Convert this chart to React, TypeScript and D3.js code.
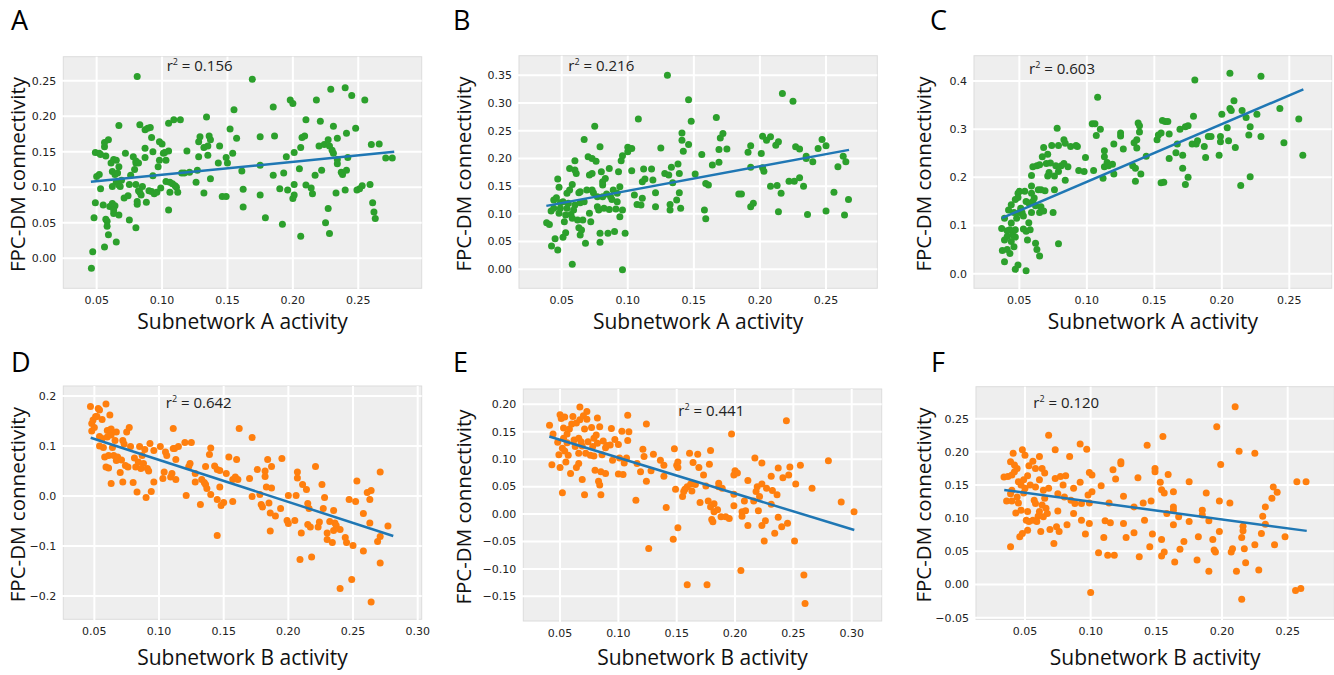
import React from "react";
import * as d3 from "d3";

// ---------- DATA ----------
const panelLetters = ["A", "B", "C", "D", "E", "F"];
const xLabels = ["Subnetwork A activity", "Subnetwork A activity", "Subnetwork A activity", "Subnetwork B activity", "Subnetwork B activity", "Subnetwork B activity"];
const yLabel = "FPC-DM connectivity";
const r2Values = ["0.156", "0.216", "0.603", "0.642", "0.441", "0.120"];

const xTicksA = [0.05, 0.1, 0.15, 0.2, 0.25];
const xTicksB = [0.05, 0.1, 0.15, 0.2, 0.25, 0.3];
const yTicks1 = [0, 0.05, 0.1, 0.15, 0.2, 0.25];
const yTicks2 = [0, 0.05, 0.1, 0.15, 0.2, 0.25, 0.3, 0.35];
const yTicks3 = [0, 0.1, 0.2, 0.3, 0.4];
const yTicks4 = [-0.2, -0.1, 0, 0.1, 0.2];
const yTicks5 = [-0.15, -0.1, -0.05, 0, 0.05, 0.1, 0.15, 0.2];
const yTicks6 = [-0.05, 0, 0.05, 0.1, 0.15, 0.2, 0.25];

// regression lines: [x0, y0, x1, y1]
const fitA = [0.0456, 0.1076, 0.2775, 0.150];
const fitB = [0.0384, 0.1144, 0.2674, 0.2155];
const fitC = [0.037, 0.1154, 0.2604, 0.3828];
const fitD = [0.0472, 0.1166, 0.2811, -0.080];
const fitE = [0.0408, 0.1414, 0.3022, -0.0292];
const fitF = [0.0342, 0.1425, 0.2645, 0.0809];

// r^2 label anchor in data units
const r2PosA = [0.1035, 0.264];
const r2PosB = [0.055, 0.358];
const r2PosC = [0.0572, 0.4145];
const r2PosD = [0.1052, 0.1754];
const r2PosE = [0.1514, 0.1786];
const r2PosF = [0.0563, 0.2657];

const pointsA: [number, number][] = [
  [0.046,-0.014],[0.047,0.009],[0.048,0.057],[0.049,0.078],[0.049,0.149],[0.052,0.148],[0.05,0.115],[0.052,0.118],[0.053,0.098],[0.055,0.075],
  [0.056,0.157],[0.056,0.163],[0.057,0.144],[0.059,0.167],[0.057,0.055],[0.058,0.052],[0.058,0.045],[0.059,0.033],[0.056,0.016],[0.065,0.023],
  [0.06,0.073],[0.062,0.077],[0.064,0.074],[0.063,0.068],[0.063,0.063],[0.067,0.061],[0.067,0.187],[0.061,0.134],[0.063,0.139],[0.065,0.138],
  [0.062,0.122],[0.064,0.118],[0.066,0.12],[0.065,0.107],[0.067,0.103],[0.062,0.101],[0.067,0.129],[0.069,0.11],[0.068,0.101],[0.072,0.148],
  [0.071,0.085],[0.074,0.088],[0.075,0.054],[0.075,0.104],[0.076,0.117],[0.078,0.143],[0.08,0.134],[0.079,0.125],[0.08,0.137],[0.082,0.134],
  [0.08,0.104],[0.081,0.08],[0.081,0.076],[0.08,0.043],[0.081,0.256],[0.083,0.188],[0.082,0.095],[0.083,0.093],[0.085,0.101],[0.084,0.089],
  [0.087,0.142],[0.087,0.155],[0.087,0.181],[0.089,0.183],[0.091,0.184],[0.092,0.17],[0.093,0.15],[0.093,0.116],[0.088,0.079],[0.09,0.095],
  [0.092,0.094],[0.094,0.091],[0.096,0.093],[0.098,0.164],[0.1,0.161],[0.097,0.129],[0.098,0.138],[0.101,0.148],[0.103,0.138],[0.099,0.099],
  [0.102,0.149],[0.105,0.151],[0.105,0.19],[0.109,0.195],[0.114,0.195],[0.103,0.108],[0.106,0.107],[0.108,0.105],[0.11,0.102],[0.111,0.1],
  [0.106,0.093],[0.112,0.093],[0.105,0.068],[0.115,0.12],[0.117,0.12],[0.119,0.151],[0.121,0.121],[0.126,0.107],[0.127,0.124],[0.128,0.143],
  [0.128,0.164],[0.129,0.171],[0.132,0.092],[0.134,0.199],[0.132,0.156],[0.135,0.158],[0.136,0.172],[0.137,0.167],[0.135,0.145],[0.137,0.112],
  [0.143,0.134],[0.144,0.158],[0.146,0.087],[0.149,0.087],[0.149,0.142],[0.15,0.134],[0.152,0.182],[0.154,0.148],[0.155,0.209],[0.157,0.169],
  [0.161,0.123],[0.162,0.097],[0.162,0.072],[0.169,0.252],[0.175,0.171],[0.175,0.089],[0.175,0.131],[0.179,0.057],[0.185,0.213],[0.186,0.172],
  [0.185,0.117],[0.19,0.098],[0.192,0.048],[0.193,0.12],[0.195,0.143],[0.196,0.096],[0.198,0.223],[0.2,0.218],[0.201,0.149],[0.201,0.104],
  [0.201,0.089],[0.2,0.084],[0.205,0.126],[0.206,0.031],[0.206,0.156],[0.207,0.17],[0.209,0.172],[0.21,0.103],[0.21,0.195],[0.214,0.099],
  [0.215,0.091],[0.217,0.117],[0.218,0.223],[0.22,0.158],[0.221,0.193],[0.222,0.124],[0.224,0.16],[0.225,0.05],[0.227,0.167],[0.227,0.07],
  [0.228,0.158],[0.229,0.238],[0.228,0.035],[0.23,0.152],[0.231,0.186],[0.231,0.148],[0.233,0.092],[0.234,0.169],[0.234,0.139],[0.234,0.133],
  [0.237,0.121],[0.238,0.118],[0.24,0.24],[0.24,0.096],[0.241,0.124],[0.241,0.176],[0.242,0.142],[0.245,0.229],[0.248,0.183],[0.249,0.096],
  [0.251,0.098],[0.253,0.102],[0.255,0.223],[0.259,0.104],[0.26,0.16],[0.261,0.078],[0.262,0.065],[0.263,0.056],[0.266,0.161],[0.271,0.141],
  [0.276,0.141],[0.053,0.146]
];

const pointsB: [number, number][] = [
  [0.0386,0.084],[0.0407,0.081],[0.0423,0.042],[0.047,0.035],[0.045,0.055],[0.042,0.105],[0.044,0.125],[0.046,0.129],[0.047,0.163],[0.048,0.148],
  [0.049,0.12],[0.049,0.11],[0.048,0.101],[0.051,0.122],[0.052,0.086],[0.051,0.058],[0.053,0.066],[0.053,0.098],[0.054,0.137],[0.056,0.143],
  [0.055,0.119],[0.056,0.182],[0.057,0.099],[0.058,0.092],[0.058,0.009],[0.058,0.153],[0.06,0.196],[0.06,0.179],[0.06,0.116],[0.061,0.173],
  [0.062,0.089],[0.063,0.075],[0.063,0.138],[0.064,0.062],[0.064,0.12],[0.065,0.071],[0.066,0.089],[0.067,0.234],[0.067,0.122],[0.068,0.047],
  [0.07,0.203],[0.071,0.17],[0.071,0.101],[0.072,0.086],[0.073,0.2],[0.073,0.173],[0.073,0.143],[0.074,0.138],[0.075,0.258],[0.076,0.195],
  [0.077,0.131],[0.077,0.113],[0.078,0.107],[0.079,0.221],[0.079,0.065],[0.08,0.176],[0.079,0.049],[0.081,0.158],[0.081,0.152],[0.082,0.11],
  [0.083,0.164],[0.084,0.136],[0.085,0.065],[0.086,0.182],[0.086,0.108],[0.087,0.131],[0.088,0.126],[0.089,0.143],[0.09,0.068],[0.091,0.109],
  [0.092,0.122],[0.093,0.176],[0.094,0.095],[0.094,0.149],[0.095,0.196],[0.096,-0.001],[0.096,0.107],[0.096,0.205],[0.098,0.065],[0.1,0.212],
  [0.1,0.22],[0.103,0.218],[0.103,0.178],[0.105,0.134],[0.107,0.117],[0.108,0.271],[0.11,0.116],[0.111,0.158],[0.111,0.128],[0.112,0.181],
  [0.113,0.163],[0.118,0.181],[0.119,0.161],[0.121,0.138],[0.121,0.113],[0.125,0.219],[0.128,0.173],[0.131,0.17],[0.13,0.35],[0.132,0.107],
  [0.132,0.117],[0.133,0.184],[0.134,0.156],[0.138,0.19],[0.139,0.138],[0.139,0.173],[0.137,0.125],[0.14,0.11],[0.141,0.246],[0.141,0.233],
  [0.142,0.213],[0.146,0.306],[0.146,0.225],[0.148,0.267],[0.151,0.172],[0.156,0.207],[0.158,0.107],[0.159,0.091],[0.159,0.155],[0.161,0.152],
  [0.164,0.188],[0.167,0.274],[0.169,0.193],[0.169,0.216],[0.17,0.237],[0.172,0.245],[0.175,0.217],[0.184,0.136],[0.186,0.136],[0.191,0.211],
  [0.193,0.223],[0.193,0.113],[0.195,0.119],[0.193,0.184],[0.201,0.209],[0.202,0.24],[0.202,0.183],[0.203,0.177],[0.205,0.233],[0.208,0.239],
  [0.208,0.15],[0.212,0.224],[0.214,0.23],[0.213,0.151],[0.214,0.104],[0.216,0.137],[0.217,0.317],[0.222,0.159],[0.225,0.303],[0.226,0.159],
  [0.227,0.221],[0.23,0.217],[0.23,0.165],[0.233,0.15],[0.235,0.2],[0.235,0.204],[0.236,0.099],[0.24,0.194],[0.244,0.218],[0.247,0.234],
  [0.25,0.223],[0.25,0.105],[0.256,0.139],[0.259,0.185],[0.263,0.204],[0.264,0.098],[0.265,0.194],[0.267,0.126],
  [0.044,0.11],[0.054,0.11],[0.059,0.107],[0.064,0.14],[0.069,0.143],[0.081,0.131],[0.092,0.137]
];

const pointsC: [number, number][] = [
  [0.0369,0.094],[0.0374,0.048],[0.039,0.07],[0.039,0.025],[0.039,0.115],[0.041,0.05],[0.041,0.089],[0.041,0.077],[0.042,0.132],[0.043,0.042],
  [0.043,0.091],[0.044,0.067],[0.044,0.105],[0.044,0.143],[0.045,0.081],[0.046,0.056],[0.046,0.127],[0.047,0.154],[0.047,0.091],[0.047,0.009],
  [0.047,0.076],[0.048,0.115],[0.049,0.018],[0.049,0.167],[0.049,0.158],[0.05,0.127],[0.05,0.171],[0.051,0.136],[0.052,0.127],[0.053,0.12],
  [0.053,0.093],[0.054,0.171],[0.055,0.006],[0.055,0.15],[0.055,0.088],[0.056,0.07],[0.057,0.147],[0.057,0.106],[0.058,0.091],[0.059,0.167],
  [0.059,0.204],[0.059,0.182],[0.059,0.127],[0.06,0.15],[0.06,0.222],[0.061,0.157],[0.062,0.141],[0.062,0.063],[0.063,0.05],[0.063,0.224],
  [0.064,0.174],[0.065,0.037],[0.065,0.226],[0.065,0.127],[0.066,0.139],[0.066,0.174],[0.067,0.243],[0.068,0.262],[0.068,0.13],[0.069,0.172],
  [0.07,0.229],[0.071,0.203],[0.071,0.248],[0.072,0.21],[0.073,0.23],[0.074,0.266],[0.075,0.127],[0.076,0.203],[0.076,0.174],[0.077,0.224],
  [0.078,0.302],[0.079,0.062],[0.079,0.212],[0.079,0.266],[0.081,0.224],[0.083,0.278],[0.083,0.229],[0.084,0.194],[0.084,0.271],[0.086,0.222],
  [0.088,0.264],[0.092,0.266],[0.093,0.264],[0.094,0.214],[0.098,0.212],[0.099,0.241],[0.104,0.311],[0.106,0.311],[0.107,0.287],[0.105,0.214],
  [0.108,0.366],[0.11,0.3],[0.112,0.198],[0.113,0.222],[0.113,0.243],[0.113,0.255],[0.115,0.231],[0.116,0.224],[0.119,0.227],[0.12,0.207],
  [0.12,0.269],[0.125,0.286],[0.125,0.292],[0.127,0.259],[0.134,0.224],[0.135,0.272],[0.136,0.219],[0.136,0.192],[0.137,0.278],[0.137,0.261],
  [0.138,0.313],[0.139,0.294],[0.139,0.307],[0.14,0.207],[0.144,0.244],[0.152,0.278],[0.153,0.288],[0.155,0.189],[0.155,0.292],[0.156,0.318],
  [0.157,0.19],[0.158,0.316],[0.16,0.316],[0.161,0.29],[0.161,0.239],[0.166,0.251],[0.167,0.269],[0.169,0.3],[0.171,0.219],[0.171,0.246],
  [0.173,0.185],[0.173,0.305],[0.175,0.307],[0.175,0.2],[0.178,0.269],[0.179,0.327],[0.18,0.402],[0.181,0.269],[0.182,0.276],[0.187,0.264],
  [0.188,0.241],[0.19,0.285],[0.192,0.285],[0.198,0.246],[0.199,0.285],[0.199,0.274],[0.2,0.331],[0.204,0.303],[0.205,0.276],[0.206,0.416],
  [0.206,0.343],[0.207,0.339],[0.209,0.359],[0.21,0.262],[0.214,0.183],[0.215,0.339],[0.218,0.324],[0.22,0.288],[0.221,0.305],[0.221,0.201],
  [0.226,0.331],[0.229,0.285],[0.229,0.41],[0.243,0.343],[0.246,0.272],[0.257,0.321],[0.26,0.246]
];

const pointsD: [number, number][] = [
  [0.047,0.179],[0.048,0.145],[0.048,0.13],[0.049,0.152],[0.05,0.137],[0.051,0.159],[0.052,0.159],[0.053,0.175],[0.054,0.172],[0.054,0.119],
  [0.054,0.1],[0.056,0.153],[0.056,0.115],[0.057,0.097],[0.058,0.078],[0.059,0.184],[0.059,0.058],[0.06,0.131],[0.06,0.118],[0.061,0.056],
  [0.061,0.081],[0.062,0.162],[0.062,0.132],[0.063,0.122],[0.063,0.025],[0.063,0.134],[0.064,0.097],[0.065,0.081],[0.066,0.111],[0.067,0.071],
  [0.067,0.128],[0.068,0.078],[0.07,0.047],[0.071,0.072],[0.072,0.028],[0.072,0.111],[0.073,0.104],[0.074,0.061],[0.075,0.128],[0.076,0.058],
  [0.077,0.137],[0.078,0.099],[0.08,0.027],[0.081,0.076],[0.082,0.058],[0.083,0.008],[0.084,0.068],[0.085,0.099],[0.086,0.055],[0.087,0.081],
  [0.088,0.065],[0.089,0.093],[0.09,-0.003],[0.091,0.055],[0.092,0.05],[0.093,0.105],[0.094,0.009],[0.096,0.028],[0.096,0.091],[0.101,0.099],
  [0.103,0.035],[0.104,0.048],[0.105,0.088],[0.106,0.081],[0.109,0.038],[0.11,0.045],[0.111,0.135],[0.111,0.095],[0.112,0.095],[0.113,0.033],
  [0.113,0.073],[0.115,0.099],[0.12,0.107],[0.121,0.001],[0.123,0.059],[0.124,0.065],[0.125,0.107],[0.128,0.045],[0.128,0.028],[0.132,-0.017],
  [0.133,0.033],[0.135,0.027],[0.136,0.059],[0.136,0.023],[0.137,0.015],[0.139,0.083],[0.14,0.096],[0.14,0.003],[0.143,0.06],[0.145,0.053],
  [0.145,-0.079],[0.145,-0.007],[0.147,0.051],[0.147,0.018],[0.148,-0.019],[0.15,-0.013],[0.152,0.045],[0.154,0.078],[0.157,-0.011],[0.157,0.033],
  [0.159,0.038],[0.16,0.073],[0.161,0.033],[0.162,0.135],[0.17,0.035],[0.172,0.117],[0.172,-0.001],[0.176,0.053],[0.178,0.003],[0.179,-0.017],
  [0.18,-0.022],[0.182,0.05],[0.182,0.039],[0.183,0.018],[0.184,0.073],[0.185,-0.014],[0.186,-0.034],[0.186,-0.07],[0.187,0.059],[0.187,0.016],
  [0.19,-0.04],[0.194,-0.025],[0.195,0.075],[0.199,-0.049],[0.2,-0.055],[0.2,0.001],[0.205,-0.049],[0.206,0.001],[0.207,0.048],[0.207,0.036],
  [0.209,-0.127],[0.21,-0.074],[0.211,0.023],[0.214,0.013],[0.215,-0.057],[0.215,-0.015],[0.216,-0.025],[0.217,-0.062],[0.218,-0.122],[0.221,0.059],
  [0.223,-0.062],[0.224,-0.052],[0.226,0.023],[0.227,-0.025],[0.228,-0.003],[0.23,-0.074],[0.23,-0.087],[0.232,-0.051],[0.234,-0.093],[0.235,-0.029],
  [0.235,-0.069],[0.236,-0.054],[0.237,-0.059],[0.24,-0.185],[0.24,-0.067],[0.244,-0.083],[0.245,-0.093],[0.247,-0.007],[0.249,-0.167],[0.25,-0.099],
  [0.252,-0.011],[0.253,0.03],[0.258,-0.035],[0.258,-0.11],[0.261,0.007],[0.263,-0.054],[0.263,-0.007],[0.264,-0.212],[0.264,0.011],[0.269,-0.091],
  [0.271,-0.081],[0.271,-0.134],[0.271,0.048],[0.277,-0.06]
];

const pointsE: [number, number][] = [
  [0.041,0.162],[0.043,0.09],[0.044,0.146],[0.048,0.131],[0.049,0.108],[0.05,0.181],[0.05,0.085],[0.051,0.174],[0.052,0.039],[0.052,0.12],
  [0.053,0.138],[0.053,0.157],[0.054,0.177],[0.054,0.115],[0.055,0.095],[0.056,0.13],[0.056,0.146],[0.057,0.107],[0.058,0.155],[0.059,0.074],
  [0.06,0.164],[0.061,0.178],[0.062,0.135],[0.063,0.123],[0.064,0.085],[0.064,0.166],[0.066,0.138],[0.066,0.111],[0.066,0.092],[0.067,0.172],
  [0.067,0.195],[0.068,0.132],[0.069,0.124],[0.069,0.063],[0.07,0.179],[0.071,0.155],[0.071,0.035],[0.072,0.111],[0.073,0.173],[0.073,0.187],
  [0.074,0.132],[0.076,0.107],[0.077,0.158],[0.078,0.123],[0.079,0.106],[0.079,0.138],[0.08,0.08],[0.081,0.144],[0.082,0.129],[0.082,0.175],
  [0.083,0.06],[0.084,0.053],[0.084,0.159],[0.085,0.077],[0.085,0.035],[0.086,0.108],[0.087,0.133],[0.089,0.121],[0.089,0.074],[0.09,0.125],
  [0.093,0.126],[0.094,0.156],[0.095,0.098],[0.097,0.136],[0.1,0.073],[0.1,0.127],[0.101,0.102],[0.103,0.151],[0.104,0.072],[0.105,0.093],
  [0.107,0.102],[0.108,0.134],[0.109,0.15],[0.108,0.18],[0.115,0.025],[0.116,0.092],[0.119,0.077],[0.121,0.118],[0.122,0.105],[0.124,0.164],
  [0.124,0.06],[0.126,-0.063],[0.128,0.079],[0.13,0.109],[0.136,0.098],[0.139,0.089],[0.139,0.069],[0.141,0.012],[0.147,-0.046],[0.148,0.119],
  [0.149,0.045],[0.15,0.089],[0.151,-0.025],[0.151,0.085],[0.151,0.095],[0.155,0.032],[0.156,0.041],[0.157,0.045],[0.159,-0.129],[0.159,0.05],
  [0.161,0.111],[0.162,0.055],[0.163,0.042],[0.164,0.094],[0.166,0.054],[0.168,0.109],[0.169,0.085],[0.17,0.021],[0.173,0.071],[0.175,0.051],
  [0.176,-0.129],[0.177,0.024],[0.178,0.091],[0.179,0.116],[0.179,0.013],[0.18,-0.01],[0.181,-0.014],[0.182,0.019],[0.182,0.004],[0.185,0.008],
  [0.186,0.056],[0.186,0.05],[0.188,-0.005],[0.189,0.047],[0.192,-0.005],[0.195,-0.008],[0.197,0.146],[0.199,0.071],[0.199,0.015],[0.199,0.036],
  [0.2,0.079],[0.202,0.075],[0.205,-0.103],[0.206,0.004],[0.206,-0.004],[0.208,0.024],[0.209,0.006],[0.211,-0.021],[0.211,0.061],[0.216,0.024],
  [0.217,0.102],[0.218,0.041],[0.219,0.05],[0.22,0.006],[0.221,0.032],[0.223,0.055],[0.223,0.093],[0.223,-0.021],[0.225,-0.049],[0.226,-0.012],
  [0.227,0.047],[0.231,0.018],[0.231,0.069],[0.232,0.043],[0.234,-0.035],[0.236,0.035],[0.237,-0.006],[0.237,0.084],[0.24,-0.023],[0.241,0.066],
  [0.244,0.17],[0.245,-0.017],[0.246,0.071],[0.247,0.086],[0.251,-0.049],[0.252,0.055],[0.256,0.089],[0.259,-0.111],[0.26,-0.163],[0.266,0.047],
  [0.28,0.097],[0.291,0.022],[0.302,0.004]
];

const pointsF: [number, number][] = [
  [0.034,0.162],[0.036,0.126],[0.037,0.163],[0.039,0.137],[0.039,0.057],[0.039,0.185],[0.04,0.126],[0.04,0.142],[0.04,0.165],[0.041,0.198],
  [0.042,0.18],[0.042,0.17],[0.043,0.108],[0.044,0.175],[0.044,0.132],[0.045,0.155],[0.045,0.123],[0.046,0.072],[0.047,0.112],[0.047,0.15],
  [0.048,0.203],[0.048,0.077],[0.049,0.138],[0.049,0.158],[0.05,0.195],[0.05,0.145],[0.051,0.097],[0.052,0.164],[0.052,0.11],[0.052,0.082],
  [0.053,0.179],[0.053,0.095],[0.054,0.15],[0.056,0.097],[0.056,0.186],[0.057,0.127],[0.058,0.147],[0.058,0.122],[0.058,0.175],[0.059,0.095],
  [0.06,0.103],[0.061,0.158],[0.061,0.193],[0.061,0.11],[0.062,0.08],[0.063,0.12],[0.063,0.175],[0.064,0.142],[0.064,0.102],[0.065,0.168],
  [0.065,0.13],[0.066,0.115],[0.067,0.107],[0.068,0.145],[0.068,0.225],[0.069,0.083],[0.072,0.062],[0.073,0.203],[0.073,0.16],[0.074,0.087],
  [0.075,0.137],[0.075,0.111],[0.076,0.08],[0.077,0.163],[0.079,0.15],[0.08,0.132],[0.081,0.164],[0.082,0.09],[0.084,0.193],[0.085,0.127],
  [0.087,0.107],[0.087,0.145],[0.088,0.122],[0.092,0.212],[0.092,0.154],[0.093,0.122],[0.093,0.097],[0.096,0.076],[0.097,0.204],[0.098,0.135],
  [0.099,0.169],[0.099,0.092],[0.099,0.123],[0.1,-0.012],[0.101,0.14],[0.101,0.165],[0.108,0.149],[0.11,0.071],[0.106,0.048],[0.111,0.096],
  [0.113,0.044],[0.114,0.123],[0.115,0.093],[0.117,0.173],[0.118,0.044],[0.119,0.159],[0.123,0.185],[0.123,0.182],[0.125,0.133],[0.125,0.092],
  [0.127,0.071],[0.133,0.078],[0.133,0.117],[0.136,0.161],[0.137,0.042],[0.14,0.123],[0.141,0.097],[0.143,0.21],[0.145,0.057],[0.146,0.126],
  [0.147,0.076],[0.149,0.175],[0.149,0.17],[0.153,0.154],[0.154,0.068],[0.154,0.143],[0.154,0.043],[0.155,0.223],[0.156,0.138],[0.156,0.049],
  [0.158,0.107],[0.159,0.166],[0.163,0.09],[0.163,0.14],[0.163,0.117],[0.163,0.112],[0.164,0.034],[0.167,0.102],[0.168,0.053],[0.171,0.065],
  [0.175,0.095],[0.175,0.155],[0.181,0.037],[0.182,0.072],[0.185,0.112],[0.185,0.105],[0.188,0.138],[0.19,0.02],[0.19,0.096],[0.193,0.068],
  [0.194,0.052],[0.195,0.049],[0.196,0.238],[0.198,0.08],[0.198,0.126],[0.199,0.181],[0.206,0.123],[0.207,0.049],[0.208,0.054],[0.21,0.268],
  [0.211,0.02],[0.213,0.201],[0.215,0.071],[0.215,-0.022],[0.216,0.088],[0.216,0.081],[0.217,0.054],[0.218,0.033],[0.225,0.198],[0.225,0.06],
  [0.228,0.022],[0.23,0.077],[0.231,0.103],[0.233,0.117],[0.233,0.091],[0.238,0.13],[0.239,0.147],[0.24,0.06],[0.242,0.139],[0.248,0.072],
  [0.256,-0.009],[0.257,0.155],[0.26,-0.006],[0.264,0.155]
];

// ---------- LAYOUT ----------
const GREEN = "#2ca02c";
const ORANGE = "#ff7f0e";
const BLUE = "#1f77b4";
const FONT = "'Open Sans', 'Noto Sans', sans-serif";
const TICKFONT = "'DejaVu Sans', sans-serif";

type Panel = {
  letter: string; lx: number; ly: number;
  left: number; top: number; right: number; bottom: number;
  xDom: [number, number]; yDom: [number, number];
  xTicks: number[]; yTicks: number[]; yFmt: string;
  pts: [number, number][]; color: string; fit: number[]; r2: string; r2Pos: number[];
  xLabel: string; yLabelX: number; xLabelY: number;
};

const panels: Panel[] = [
  { letter: panelLetters[0], lx: 11, ly: 30, left: 63.3, top: 56.7, right: 421.7, bottom: 288.3, xDom: [0.0245, 0.2985], yDom: [-0.0423, 0.2838], xTicks: xTicksA, yTicks: yTicks1, yFmt: ".2f", pts: pointsA, color: GREEN, fit: fitA, r2: r2Values[0], r2Pos: r2PosA, xLabel: xLabels[0], yLabelX: 17, xLabelY: 329 },
  { letter: panelLetters[1], lx: 453, ly: 30, left: 519, top: 55.7, right: 877.3, bottom: 288.3, xDom: [0.0177, 0.2888], yDom: [-0.0343, 0.3854], xTicks: xTicksA, yTicks: yTicks2, yFmt: ".2f", pts: pointsB, color: GREEN, fit: fitB, r2: r2Values[1], r2Pos: r2PosB, xLabel: xLabels[1], yLabelX: 463, xLabelY: 329 },
  { letter: panelLetters[2], lx: 930, ly: 30, left: 974, top: 55.7, right: 1331.7, bottom: 288.3, xDom: [0.0164, 0.2814], yDom: [-0.0303, 0.4525], xTicks: xTicksA, yTicks: yTicks3, yFmt: ".1f", pts: pointsC, color: GREEN, fit: fitC, r2: r2Values[2], r2Pos: r2PosC, xLabel: xLabels[2], yLabelX: 923, xLabelY: 329 },
  { letter: panelLetters[3], lx: 11, ly: 372, left: 63.3, top: 386, right: 421.7, bottom: 619.3, xDom: [0.026, 0.3031], yDom: [-0.2466, 0.22], xTicks: xTicksB, yTicks: yTicks4, yFmt: ".1f", pts: pointsD, color: ORANGE, fit: fitD, r2: r2Values[3], r2Pos: r2PosD, xLabel: xLabels[3], yLabelX: 17, xLabelY: 665 },
  { letter: panelLetters[4], lx: 453, ly: 372, left: 523.3, top: 389, right: 881.7, bottom: 621, xDom: [0.0185, 0.3257], yDom: [-0.195, 0.228], xTicks: xTicksB, yTicks: yTicks5, yFmt: ".2f", pts: pointsE, color: ORANGE, fit: fitE, r2: r2Values[4], r2Pos: r2PosE, xLabel: xLabels[4], yLabelX: 463, xLabelY: 665 },
  { letter: panelLetters[5], lx: 931, ly: 372, left: 976, top: 386.7, right: 1334.3, bottom: 619.3, xDom: [0.0127, 0.2855], yDom: [-0.0524, 0.2982], xTicks: xTicksA, yTicks: yTicks6, yFmt: ".2f", pts: pointsF, color: ORANGE, fit: fitF, r2: r2Values[5], r2Pos: r2PosF, xLabel: xLabels[5], yLabelX: 923, xLabelY: 665 },
];

function fmt(v: number, f: string) {
  const s = d3.format(f)(v);
  return s.replace("-", "\u2212");
}

function PanelView({ p }: { p: Panel }) {
  const x = d3.scaleLinear().domain(p.xDom).range([p.left, p.right]);
  const y = d3.scaleLinear().domain(p.yDom).range([p.bottom, p.top]);
  const line = d3.line<number[]>().x((d) => x(d[0])).y((d) => y(d[1]));
  const cy = (p.top + p.bottom) / 2;
  const cx = (p.left + p.right) / 2;
  return (
    <g>
      <text x={p.lx} y={p.ly} fontFamily={FONT} fontSize={27} fill="#000">{p.letter}</text>
      <rect x={p.left} y={p.top} width={p.right - p.left} height={p.bottom - p.top} fill="#eeeeee" stroke="#dcdcdc" strokeWidth={1} />
      {p.xTicks.map((t) => (
        <g key={"x" + t}>
          <line x1={x(t)} x2={x(t)} y1={p.top} y2={p.bottom + 3} stroke="#fff" strokeWidth={2} />
          <text x={x(t)} y={p.bottom + 16} textAnchor="middle" fontFamily={TICKFONT} fontSize={11} fill="#222">{fmt(t, ".2f")}</text>
        </g>
      ))}
      {p.yTicks.map((t) => (
        <g key={"y" + t}>
          <line x1={p.left - 3} x2={p.right} y1={y(t)} y2={y(t)} stroke="#fff" strokeWidth={2} />
          <text x={p.left - 7} y={y(t)} dy="0.35em" textAnchor="end" fontFamily={TICKFONT} fontSize={11} fill="#222">{fmt(t, p.yFmt)}</text>
        </g>
      ))}
      {p.pts.map((d, i) => (
        <circle key={i} cx={x(d[0])} cy={y(d[1])} r={3.5} fill={p.color} />
      ))}
      <path d={line([[p.fit[0], p.fit[1]], [p.fit[2], p.fit[3]]]) || ""} stroke={BLUE} strokeWidth={2.5} fill="none" />
      <text x={x(p.r2Pos[0])} y={y(p.r2Pos[1])} fontFamily={FONT} fontSize={15} fill="#222">
        r<tspan fontSize={9} dy={-6}>2</tspan><tspan dy={6}>{" = " + p.r2}</tspan>
      </text>
      <text x={cx} y={p.xLabelY} textAnchor="middle" fontFamily={FONT} fontSize={21} fill="#111">{p.xLabel}</text>
      <text transform={`translate(${p.yLabelX + 8},${cy + 2}) rotate(-90)`} textAnchor="middle" fontFamily={FONT} fontSize={20.5} fill="#111">{yLabel}</text>
    </g>
  );
}

export default function App() {
  return (
    <svg width={1334} height={675} style={{ position: "absolute", left: 0, top: 0, background: "#fff" }}>
      <rect width={1334} height={675} fill="#fff" />
      {panels.map((p) => <PanelView key={p.letter} p={p} />)}
    </svg>
  );
}
